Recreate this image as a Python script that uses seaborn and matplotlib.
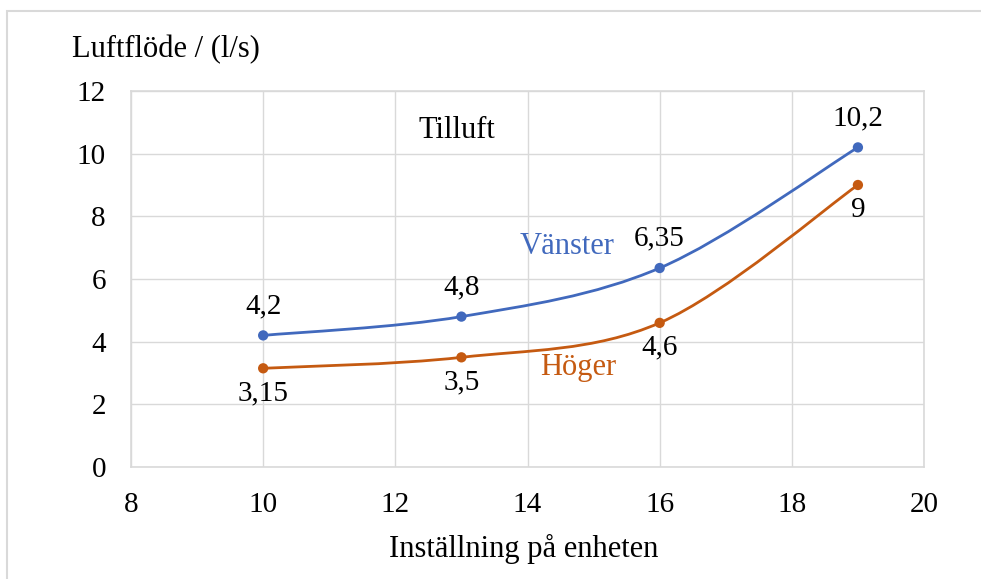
import matplotlib
matplotlib.use("Agg")
import matplotlib.pyplot as plt
import seaborn as sns
import pandas as pd
import numpy as np
from matplotlib.path import Path
from matplotlib.patches import PathPatch, Rectangle

# ---- data ----
installning = [10, 13, 16, 19]
vanster = [4.2, 4.8, 6.35, 10.2]
hoger = [3.15, 3.5, 4.6, 9.0]
vanster_labels = ["4,2", "4,8", "6,35", "10,2"]
hoger_labels = ["3,15", "3,5", "4,6", "9"]
x_ticks = [8, 10, 12, 14, 16, 18, 20]
y_ticks = [0, 2, 4, 6, 8, 10, 12]

BLUE = "#4169BD"
ORANGE = "#C55A11"
GRID = "#d9d9d9"
FS = 21
FS_TXT = 22

sns.set_theme(style="white")
plt.rcParams["font.family"] = ["Liberation Serif", "DejaVu Serif"]

fig = plt.figure(figsize=(9.81, 5.79), dpi=100)
ax = fig.add_axes([131 / 981, 1 - 467 / 579, (924 - 131) / 981, (467 - 91) / 579])

df = pd.DataFrame({
    "x": installning * 2,
    "y": vanster + hoger,
    "serie": ["Vänster"] * 4 + ["Höger"] * 4,
})


def smooth_path(xs, ys):
    pts = np.column_stack([xs, ys]).astype(float)
    n = len(pts)
    verts = [pts[0]]
    codes = [Path.MOVETO]
    for i in range(n - 1):
        p0 = pts[i - 1] if i > 0 else pts[i]
        p1 = pts[i]
        p2 = pts[i + 1]
        p3 = pts[i + 2] if i + 2 < n else pts[i + 1]
        c1 = p1 + (p2 - p0) / 6.0
        c2 = p2 - (p3 - p1) / 6.0
        verts += [c1, c2, p2]
        codes += [Path.CURVE4] * 3
    return Path(verts, codes)


for ys, col in [(vanster, BLUE), (hoger, ORANGE)]:
    ax.add_patch(PathPatch(smooth_path(installning, ys), facecolor="none",
                           edgecolor=col, lw=2.0, zorder=3))

sns.scatterplot(data=df, x="x", y="y", hue="serie",
                palette={"Vänster": BLUE, "Höger": ORANGE},
                s=55, edgecolor="none", legend=False, ax=ax, zorder=4)

ax.set_xlim(8, 20)
ax.set_ylim(0, 12)
ax.set_xticks(x_ticks)
ax.set_yticks(y_ticks)
ax.set_xticklabels([str(t) for t in x_ticks])
ax.set_yticklabels([str(t) for t in y_ticks])
ax.tick_params(axis="both", length=0, labelsize=FS, colors="#000000")
ax.tick_params(axis="x", pad=18)
ax.tick_params(axis="y", pad=18)
ax.grid(True, color=GRID, lw=1)
ax.set_axisbelow(True)
for s in ax.spines.values():
    s.set_color(GRID)
    s.set_linewidth(1.2)
ax.set_xlabel("")
ax.set_ylabel("")

for x, y, t in zip(installning, vanster, vanster_labels):
    ax.annotate(t, (x, y), xytext=(0, 21), textcoords="offset points",
                ha="center", va="center", fontsize=FS, color="black")
for x, y, t in zip(installning, hoger, hoger_labels):
    ax.annotate(t, (x, y), xytext=(0, -18), textcoords="offset points",
                ha="center", va="center", fontsize=FS, color="black")

ax.text(12.93, 10.75, "Tilluft", ha="center", va="center", fontsize=FS_TXT, color="black")
ax.text(14.6, 7.05, "Vänster", ha="center", va="center", fontsize=FS_TXT, color=BLUE)
ax.text(14.76, 3.16, "Höger", ha="center", va="center", fontsize=FS_TXT, color=ORANGE)

fig.text(72 / 981, 1 - 50 / 579, "Luftflöde / (l/s)", ha="left", va="center",
         fontsize=FS_TXT, color="black")
fig.text((131 + 924) / 2 / 981 - 0.004, 1 - 549 / 579, "Inställning på enheten",
         ha="center", va="center", fontsize=FS_TXT, color="black")

fig.add_artist(Rectangle((7 / 981, -0.1), 1.2, (579 - 11) / 579 + 0.1,
                         transform=fig.transFigure, fill=False,
                         edgecolor=GRID, lw=1.5))

fig.savefig("out.png", dpi=100)
